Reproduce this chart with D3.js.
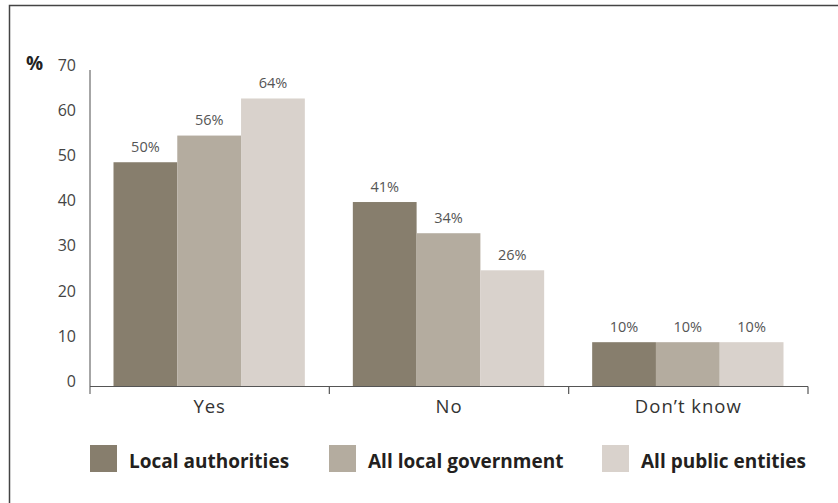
<!DOCTYPE html>
<meta charset="utf-8">
<style>
body { margin: 0; background: #fff; }
text { font-family: 'Open Sans', 'Noto Sans', sans-serif; }
</style>
<script src="https://d3js.org/d3.v7.min.js"></script>
<div id="chart"></div>
<script>
// data
var categories = ["Yes", "No", "Don\u2019t know"];
var series = ["Local authorities", "All local government", "All public entities"];
var localAuthorities = [49.6, 40.8, 9.8];
var allLocalGovernment = [55.5, 33.9, 9.8];
var allPublicEntities = [63.7, 25.7, 9.8];
var valueLabels = [["50%", "41%", "10%"], ["56%", "34%", "10%"], ["64%", "26%", "10%"]];
var yTicks = [0, 10, 20, 30, 40, 50, 60, 70];
var colors = ["#877e6d", "#b4ac9f", "#d9d2cc"];

var values = [localAuthorities, allLocalGovernment, allPublicEntities];
var rows = [];
series.forEach(function (s, si) {
  categories.forEach(function (c, ci) {
    rows.push({ series: s, si: si, cat: c, value: values[si][ci], label: valueLabels[si][ci] });
  });
});

var W = 838, H = 503;
var svg = d3.select("#chart").append("svg")
    .attr("width", W)
    .attr("height", H);

// frame (top and left only)
svg.append("path")
    .attr("d", "M9.5,503 V5.5 H838")
    .attr("fill", "none")
    .attr("stroke", "#444")
    .attr("stroke-width", 1.5);

var x = d3.scaleBand().domain(categories).range([90, 808]).padding(0);
var bw = x.bandwidth();
var xs = d3.scaleBand().domain(series).range([23.5, bw - 24.5]).padding(0);
var y = d3.scaleLinear().domain([0, 70]).range([386.5, 70]);

// y tick labels (baseline sits on the value)
svg.append("g")
  .selectAll("text")
  .data(yTicks)
  .enter()
  .append("text")
    .attr("x", 76)
    .attr("y", function (d) { return y(d) + 0.5; })
    .attr("text-anchor", "end")
    .style("font-size", "16px")
    .style("fill", "#444")
    .text(function (d) { return d; });

svg.append("text")
    .attr("x", 26)
    .attr("y", 70)
    .style("font-size", "19px")
    .style("font-weight", "bold")
    .style("fill", "#222")
    .text("%");

// bars
svg.append("g")
  .selectAll("rect")
  .data(rows)
  .enter()
  .append("rect")
    .attr("x", function (d) { return x(d.cat) + xs(d.series); })
    .attr("y", function (d) { return y(d.value); })
    .attr("width", xs.bandwidth())
    .attr("height", function (d) { return y(0) - y(d.value); })
    .attr("fill", function (d) { return colors[d.si]; });

// value labels
svg.append("g")
  .selectAll("text")
  .data(rows)
  .enter()
  .append("text")
    .attr("x", function (d) { return x(d.cat) + xs(d.series) + xs.bandwidth() / 2; })
    .attr("y", function (d) { return y(d.value) - 10.5; })
    .attr("text-anchor", "middle")
    .style("font-size", "14.5px")
    .style("fill", "#555")
    .text(function (d) { return d.label; });

// y axis line
svg.append("line")
    .attr("x1", 90).attr("x2", 90)
    .attr("y1", 70).attr("y2", 394)
    .attr("stroke", "#888")
    .attr("stroke-width", 1.5);

// x axis line and group ticks
svg.append("line")
    .attr("x1", 90).attr("x2", 808)
    .attr("y1", y(0)).attr("y2", y(0))
    .attr("stroke", "#555")
    .attr("stroke-width", 1.2);

var bounds = categories.map(function (c) { return x(c); }).concat([x(categories[categories.length - 1]) + bw]);
svg.append("g")
  .selectAll("line")
  .data(bounds.slice(1))
  .enter()
  .append("line")
    .attr("x1", function (d) { return d; })
    .attr("x2", function (d) { return d; })
    .attr("y1", y(0))
    .attr("y2", y(0) + 7.5)
    .attr("stroke", "#555")
    .attr("stroke-width", 1.2);

// category labels
svg.append("g")
  .selectAll("text")
  .data(categories)
  .enter()
  .append("text")
    .attr("x", function (d) { return x(d) + bw / 2; })
    .attr("y", 413)
    .attr("text-anchor", "middle")
    .style("font-size", "18.5px")
    .style("letter-spacing", "1px")
    .style("fill", "#333")
    .text(function (d) { return d; });

// legend
var legendX = [90, 329, 602];
var legend = svg.append("g")
  .selectAll("g")
  .data(series)
  .enter()
  .append("g")
    .attr("transform", function (d, i) { return "translate(" + legendX[i] + ",445)"; });

legend.append("rect")
    .attr("width", 27)
    .attr("height", 27)
    .attr("fill", function (d, i) { return colors[i]; });

legend.append("text")
    .attr("x", 39)
    .attr("y", 23)
    .style("font-size", "19px")
    .style("font-weight", "bold")
    .style("fill", "#231f20")
    .text(function (d) { return d; });
</script>
